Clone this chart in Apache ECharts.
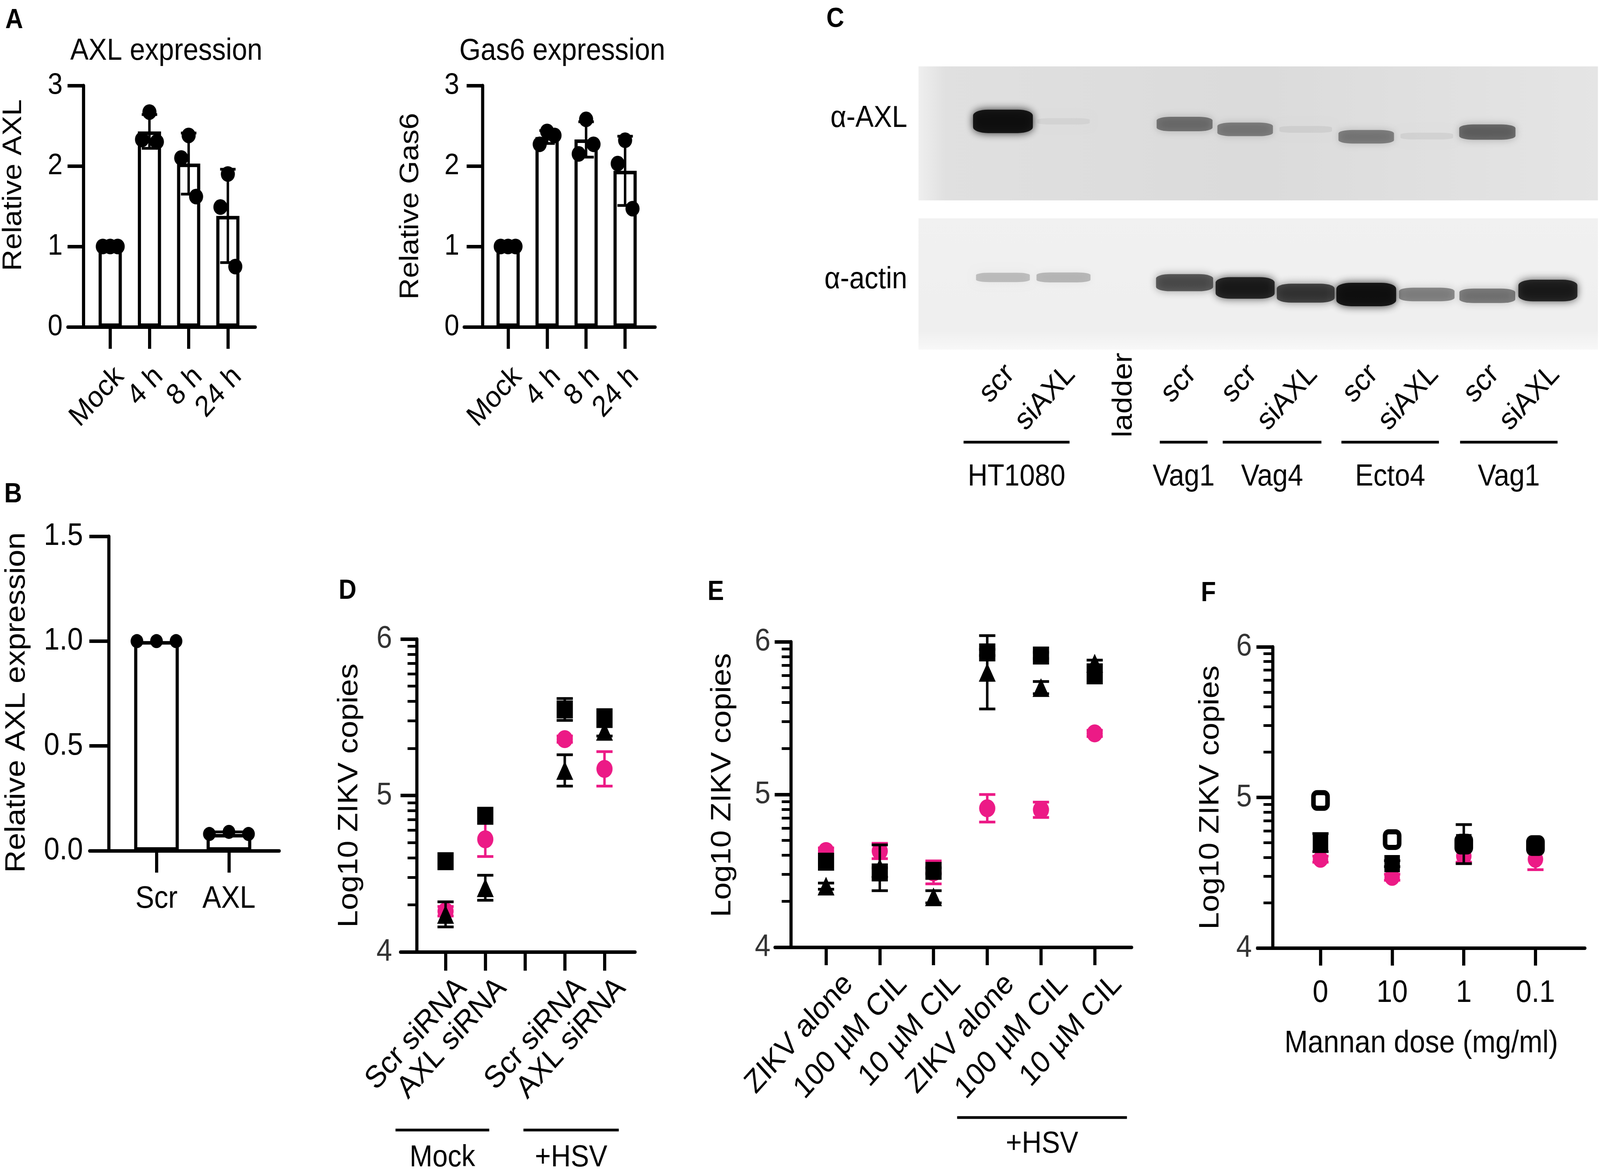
<!DOCTYPE html>
<html>
<head>
<meta charset="utf-8">
<style>
  html, body { margin: 0; background: #fff; overflow: hidden; }
  #chart { width: 4550px; height: 3003px; transform-origin: 0 0; }
</style>
</head>
<body>
<div id="chart"></div>
<script src="https://cdn.jsdelivr.net/npm/echarts@6/dist/echarts.min.js"></script>
<script>
// ---- A: relative expression after HSV exposure ----
const timeCats = ['Mock', '4 h', '8 h', '24 h'];
const axlMean = [1.0, 2.43, 2.03, 1.38];
const axlSd = [0.0, 0.21, 0.38, 0.58];
const axlDots = [[1.0, 1.0, 1.0], [2.33, 2.67, 2.30], [2.10, 2.38, 1.62], [1.49, 1.90, 0.75]];
const gasMean = [1.0, 2.36, 2.33, 1.94];
const gasSd = [0.0, 0.08, 0.22, 0.43];
const gasDots = [[1.0, 1.0, 1.0], [2.27, 2.43, 2.38], [2.15, 2.58, 2.27], [2.03, 2.32, 1.47]];

// ---- B: knockdown ----
const kdCats = ['Scr', 'AXL'];
const kdMean = [1.0, 0.08];
const kdSd = [0.0, 0.01];
const kdDots = [[1.0, 1.0, 1.0], [0.08, 0.09, 0.08]];

// ---- C: western blot (band position = % from top of membrane, intensity 0..1) ----
const laneNames = ['scr', 'siAXL', 'ladder', 'scr', 'scr', 'siAXL', 'scr', 'siAXL', 'scr', 'siAXL'];
const ladderLane = 2;
const axlBandPos = [41, 41, 0, 43, 47, 47, 52.5, 52, 49, 49];
const axlBandInt = [1.0, 0.05, 0, 0.5, 0.45, 0.07, 0.45, 0.07, 0.55, 0];
const actinBandPos = [45, 45, 0, 49, 53, 57, 58, 58, 59, 55];
const actinBandInt = [0.22, 0.25, 0, 0.65, 0.9, 0.75, 1.0, 0.45, 0.5, 0.9];
const blotGroups = ['HT1080', 'Vag1', 'Vag4', 'Ecto4', 'Vag1'];

// ---- D: ZIKV copies after siRNA ----
const dCats = ['Scr siRNA', 'AXL siRNA', '', 'Scr siRNA', 'AXL siRNA'];
const dX = [0, 1, 3, 4];
const dSquare = [4.58, 4.87, 5.55, 5.50];
const dSquareErr = [0.02, 0.02, 0.07, 0.03];
const dCircle = [4.26, 4.72, 5.36, 5.17];
const dCircleErr = [0.03, 0.11, 0.02, 0.11];
const dTriangle = [4.24, 4.41, 5.16, 5.41];
const dTriangleErr = [0.08, 0.08, 0.10, 0.03];

// ---- E: cilengitide ----
const eCats = ['ZIKV alone', '100 µM CIL', '10 µM CIL', 'ZIKV alone', '100 µM CIL', '10 µM CIL'];
const eX = [0, 1, 2, 3, 4, 5];
const eSquare = [4.56, 4.49, 4.50, 5.93, 5.91, 5.79];
const eSquareErr = [0.02, 0.03, 0.02, 0.02, 0.02, 0.06];
const eCircle = [4.63, 4.63, 4.49, 4.91, 4.90, 5.40];
const eCircleErr = [0.02, 0.05, 0.075, 0.09, 0.05, 0.02];
const eTriangle = [4.40, 4.52, 4.33, 5.80, 5.70, 5.86];
const eTriangleErr = [0.02, 0.15, 0.04, 0.24, 0.04, 0.02];

// ---- F: mannan ----
const fCats = ['0', '10', '1', '0.1'];
const fX = [0, 1, 2, 3];
const fOpen = [4.98, 4.72, 4.69, 4.68];
const fOpenErr = [0.01, 0.01, 0.13, 0.02];
const fSquare = [4.70, 4.56, 4.70, 4.68];
const fSquareErr = [0.06, 0.02, 0.03, 0.03];
const fCircle = [4.59, 4.47, 4.61, 4.59];
const fCircleErr = [0.02, 0.02, 0.04, 0.07];

const FONT = 'Liberation Sans';
const PINK = '#ec1a86';
const AXW = 9;

// the window may be narrower than the 4550px figure: squeeze horizontally to fit
const box = document.getElementById('chart');
const sx = Math.min(1, window.innerWidth / 4550);
if (sx < 1) box.style.transform = 'scale(' + sx + ',1)';

const chart = echarts.init(box);

// log-style minor ticks between decades
const minorTicks = [];
[4, 5].forEach(d => { for (let k = 2; k <= 9; k++) minorTicks.push(d + Math.log10(k)); });

function xAxisOf(o) {
  return {
    type: 'value', gridIndex: o.grid, min: o.min, max: o.max, position: 'bottom',
    axisLine: { show: o.line !== false, onZero: false, lineStyle: { color: '#000', width: AXW } },
    axisTick: { show: o.ticks !== undefined, length: o.tickLen, customValues: o.ticks, lineStyle: { color: '#000', width: AXW } },
    axisLabel: {
      show: o.labelValues !== undefined, customValues: o.labelValues, formatter: o.fmt,
      rotate: o.rotate || 0, margin: o.margin, fontFamily: FONT, fontSize: o.fs || 80, color: '#000'
    },
    splitLine: { show: false },
    name: o.name, nameLocation: 'middle', nameGap: o.nameGap,
    nameTextStyle: { fontFamily: FONT, fontSize: o.fs || 80, color: '#000' }
  };
}

function yAxisOf(o) {
  return {
    type: 'value', gridIndex: o.grid, min: o.min, max: o.max, interval: o.interval,
    position: 'left', offset: o.offset || 0, inverse: !!o.inverse,
    axisLine: { show: o.line !== false, onZero: false, lineStyle: { color: '#000', width: AXW } },
    axisTick: { show: o.tickLen > 0, length: o.tickLen, customValues: o.ticks, lineStyle: { color: '#000', width: o.tickW || AXW } },
    axisLabel: {
      show: o.labels !== false, margin: o.margin, formatter: o.fmt, customValues: o.labelValues,
      fontFamily: FONT, fontSize: o.fs || 80, color: o.color || '#000'
    },
    splitLine: { show: false },
    name: o.name, nameLocation: 'middle', nameGap: o.nameGap,
    nameTextStyle: { fontFamily: FONT, fontSize: o.fs || 80, color: '#000', padding: o.namePad || 0 }
  };
}

function dotData(dots, jitter) {
  const out = [];
  dots.forEach((vals, i) => vals.forEach((v, k) => out.push([i + jitter[k], v])));
  return out;
}

function errBars(xi, yi, xs, mean, err, color, cap, z) {
  return {
    type: 'custom', xAxisIndex: xi, yAxisIndex: yi, z: z, silent: true, clip: false,
    encode: { x: 0, y: [1, 2] },
    data: mean.map((m, i) => [xs[i], m - err[i], m + err[i]]).filter(d => d[2] > d[1]),
    renderItem: function (params, api) {
      const lo = api.coord([api.value(0), api.value(1)]);
      const hi = api.coord([api.value(0), api.value(2)]);
      const st = { stroke: color, lineWidth: 7, fill: null };
      return {
        type: 'group', children: [
          { type: 'line', shape: { x1: lo[0], y1: lo[1], x2: hi[0], y2: hi[1] }, style: st },
          { type: 'line', shape: { x1: hi[0] - cap, y1: hi[1], x2: hi[0] + cap, y2: hi[1] }, style: st },
          { type: 'line', shape: { x1: lo[0] - cap, y1: lo[1], x2: lo[0] + cap, y2: lo[1] }, style: st }
        ]
      };
    }
  };
}

function markers(xi, yi, xs, vals, symbol, size, itemStyle, z) {
  return {
    type: 'scatter', xAxisIndex: xi, yAxisIndex: yi, z: z, symbol: symbol, symbolSize: size,
    itemStyle: Object.assign({ opacity: 1 }, itemStyle), data: vals.map((v, i) => [xs[i], v])
  };
}

function bands(xi, yi, pos, inten) {
  const data = [];
  pos.forEach((p, i) => {
    const a = inten[i];
    if (a <= 0) return;
    const c = 'rgba(12,12,12,' + (0.92 * a).toFixed(3) + ')';
    data.push({ value: [i, p, a], itemStyle: { color: c, shadowColor: c, shadowBlur: 22, opacity: 1 } });
  });
  return {
    type: 'scatter', xAxisIndex: xi, yAxisIndex: yi, symbol: 'roundRect', z: 3, silent: true,
    symbolSize: v => [148 + 22 * v[2], 14 + 46 * v[2]], data: data
  };
}

const idx = n => Array.from({ length: n }, (_, i) => i);
const catFmt = (cats, shift) => v => cats[Math.round(v - (shift || 0))];

const grids = [
  { left: 191, top: 219, width: 535, height: 618 },   // 0 A AXL
  { left: 1320, top: 219, width: 543, height: 618 },  // 1 A Gas6
  { left: 255, top: 1373, width: 539, height: 805 },  // 2 B
  { left: 1139, top: 1636, width: 667, height: 801 }, // 3 D
  { left: 2204, top: 1643, width: 1014, height: 782 },// 4 E
  { left: 3576, top: 1656, width: 931, height: 771 }, // 5 F
  { left: 2612, top: 170, width: 1932, height: 343, show: true, borderWidth: 0,
    backgroundColor: { type: 'linear', x: 0, y: 0, x2: 1, y2: 0, colorStops: [
      { offset: 0, color: '#efefef' }, { offset: 0.04, color: '#e0e0e0' },
      { offset: 0.5, color: '#dbdbdb' }, { offset: 1, color: '#e5e5e5' }] } },
  { left: 2612, top: 559, width: 1932, height: 336, show: true, borderWidth: 0,
    backgroundColor: { type: 'linear', x: 0, y: 0, x2: 0, y2: 1, colorStops: [
      { offset: 0, color: '#f1f1f1' }, { offset: 0.85, color: '#efefef' }, { offset: 1, color: '#f8f8f8' }] } }
];

// rotated labels sit a little to the right of their tick in the original
const aShift = 0.24, dShift = 0.42, eShift = 0.42, laneShift = 0.12;

const xAxes = [
  xAxisOf({ grid: 0, min: -1.08, max: 3.70, ticks: idx(4), tickLen: 56, labelValues: idx(4).map(v => v + aShift), fmt: catFmt(timeCats, aShift), rotate: 45, margin: 115, fs: 76 }),
  xAxisOf({ grid: 1, min: -1.126, max: 3.77, ticks: idx(4), tickLen: 56, labelValues: idx(4).map(v => v + aShift), fmt: catFmt(timeCats, aShift), rotate: 45, margin: 115, fs: 76 }),
  xAxisOf({ grid: 2, min: -0.922, max: 1.694, ticks: idx(2), tickLen: 56, labelValues: idx(2), fmt: catFmt(kdCats), margin: 84 }),
  xAxisOf({ grid: 3, min: -1.133, max: 4.77, ticks: idx(5), tickLen: 48, labelValues: dX.map(v => v + dShift), fmt: catFmt(dCats, dShift), rotate: 45, margin: 80 }),
  xAxisOf({ grid: 4, min: -0.949, max: 5.687, ticks: idx(6), tickLen: 46, labelValues: eX.map(v => v + eShift), fmt: catFmt(eCats, eShift), rotate: 45, margin: 82 }),
  xAxisOf({ grid: 5, min: -0.879, max: 3.69, ticks: idx(4), tickLen: 45, labelValues: fX, fmt: catFmt(fCats), margin: 76,
    name: 'Mannan dose (mg/ml)', nameGap: 205 }),
  // blot axes: ladder label hangs off the upper membrane, lane labels off the lower one
  xAxisOf({ grid: 6, min: -1.394, max: 9.826, line: false, labelValues: [ladderLane], fmt: catFmt(laneNames), rotate: 90, margin: 390, fs: 78 }),
  xAxisOf({ grid: 7, min: -1.394, max: 9.826, line: false,
    labelValues: idx(10).filter(i => i !== ladderLane).map(v => v + laneShift), fmt: catFmt(laneNames, laneShift), rotate: 45, margin: 51, fs: 78 })
];

const yAxes = [
  yAxisOf({ grid: 0, min: 0, max: 3, interval: 1, offset: -44, tickLen: 45, margin: 59, fs: 76,
    name: 'Relative AXL', nameGap: 160, namePad: [0, 0, 0, 108] }),
  yAxisOf({ grid: 1, min: 0, max: 3, interval: 1, offset: -52, tickLen: 45, margin: 66, fs: 76,
    name: 'Relative Gas6', nameGap: 166 }),
  yAxisOf({ grid: 2, min: 0, max: 1.5, interval: 0.5, offset: -54, tickLen: 55, margin: 73, fmt: v => v.toFixed(1),
    name: 'Relative AXL expression', nameGap: 221, namePad: [0, 46, 0, 0] }),
  yAxisOf({ grid: 3, min: 4, max: 6, interval: 1, offset: -46, tickLen: 46, margin: 70, color: '#333',
    name: 'Log10 ZIKV copies', nameGap: 151 }),
  yAxisOf({ grid: 3, min: 4, max: 6, offset: -46, line: false, labels: false, tickLen: 26, tickW: 7, ticks: minorTicks }),
  yAxisOf({ grid: 4, min: 4, max: 6, interval: 1, offset: -45, tickLen: 46, margin: 58, color: '#333',
    name: 'Log10 ZIKV copies', nameGap: 154, namePad: [0, 0, 0, 48] }),
  yAxisOf({ grid: 4, min: 4, max: 6, offset: -45, line: false, labels: false, tickLen: 26, tickW: 7, ticks: minorTicks }),
  yAxisOf({ grid: 5, min: 4, max: 6, interval: 1, offset: -43, tickLen: 46, margin: 59, color: '#333',
    name: 'Log10 ZIKV copies', nameGap: 136 }),
  yAxisOf({ grid: 5, min: 4, max: 6, offset: -43, line: false, labels: false, tickLen: 26, tickW: 7, ticks: minorTicks }),
  yAxisOf({ grid: 6, min: 0, max: 100, inverse: true, line: false, tickLen: 0, labelValues: [39], fmt: () => 'α-AXL', margin: 32, fs: 78 }),
  yAxisOf({ grid: 7, min: 0, max: 100, inverse: true, line: false, tickLen: 0, labelValues: [47], fmt: () => 'α-actin', margin: 32, fs: 78 })
];

const barStyle = { color: '#fff', borderColor: '#000', borderWidth: 9 };
const jitterA = [-0.19, 0, 0.19];
const jitterB = [-0.27, 0, 0.27];
const blk = { color: '#000', opacity: 1 };
const pnk = { color: PINK, opacity: 1 };
const open = { color: '#fff', borderColor: '#000', borderWidth: 13, opacity: 1 };

const series = [
  // A
  { type: 'bar', xAxisIndex: 0, yAxisIndex: 0, barWidth: 66, itemStyle: barStyle, z: 2, data: axlMean.map((m, i) => [i, m]) },
  errBars(0, 0, idx(4), axlMean, axlSd, '#000', 22, 3),
  { type: 'scatter', xAxisIndex: 0, yAxisIndex: 0, symbolSize: 40, itemStyle: blk, z: 4, data: dotData(axlDots, jitterA) },
  { type: 'bar', xAxisIndex: 1, yAxisIndex: 1, barWidth: 66, itemStyle: barStyle, z: 2, data: gasMean.map((m, i) => [i, m]) },
  errBars(1, 1, idx(4), gasMean, gasSd, '#000', 22, 3),
  { type: 'scatter', xAxisIndex: 1, yAxisIndex: 1, symbolSize: 40, itemStyle: blk, z: 4, data: dotData(gasDots, jitterA) },
  // B
  { type: 'bar', xAxisIndex: 2, yAxisIndex: 2, barWidth: 127, itemStyle: barStyle, z: 2, data: kdMean.map((m, i) => [i, m]) },
  errBars(2, 2, idx(2), kdMean, kdSd, '#000', 40, 3),
  { type: 'scatter', xAxisIndex: 2, yAxisIndex: 2, symbolSize: 36, itemStyle: blk, z: 4, data: dotData(kdDots, jitterB) },
  // D
  errBars(3, 3, dX, dCircle, dCircleErr, PINK, 23, 10),
  markers(3, 3, dX, dCircle, 'circle', 46, pnk, 11),
  errBars(3, 3, dX, dTriangle, dTriangleErr, '#000', 23, 12),
  markers(3, 3, dX, dTriangle, 'triangle', 48, blk, 13),
  errBars(3, 3, dX, dSquare, dSquareErr, '#000', 23, 14),
  markers(3, 3, dX, dSquare, 'rect', 46, blk, 15),
  // E
  errBars(4, 5, eX, eCircle, eCircleErr, PINK, 23, 10),
  markers(4, 5, eX, eCircle, 'circle', 46, pnk, 11),
  errBars(4, 5, eX, eTriangle, eTriangleErr, '#000', 23, 12),
  markers(4, 5, eX, eTriangle, 'triangle', 48, blk, 13),
  errBars(4, 5, eX, eSquare, eSquareErr, '#000', 23, 14),
  markers(4, 5, eX, eSquare, 'rect', 46, blk, 15),
  // F
  errBars(5, 7, fX, fCircle, fCircleErr, PINK, 23, 10),
  markers(5, 7, fX, fCircle, 'circle', 44, pnk, 11),
  errBars(5, 7, fX, fOpen, fOpenErr, '#000', 23, 12),
  markers(5, 7, fX, fOpen, 'roundRect', 40, open, 13),
  errBars(5, 7, fX, fSquare, fSquareErr, '#000', 23, 14),
  markers(5, 7, fX, fSquare, 'rect', 44, blk, 15),
  // C
  bands(6, 9, axlBandPos, axlBandInt),
  bands(7, 10, actinBandPos, actinBandInt)
];

chart.setOption({
  animation: false,
  backgroundColor: '#fff',
  textStyle: { fontFamily: FONT },
  grid: grids,
  xAxis: xAxes,
  yAxis: yAxes,
  series: series
});

// panel letters, titles and group brackets
const txt = (x, y, s, size, weight, align) => ({
  type: 'text', x: x, y: y, silent: true,
  style: { text: s, fontFamily: FONT, fontSize: size, fontWeight: weight || 'normal', fill: '#000',
    align: align || 'left', verticalAlign: 'top', textAlign: align || 'left', textVerticalAlign: 'top' }
});
const gfx = [
  txt(15, 18, 'A', 70, 'bold'), txt(12, 1232, 'B', 70, 'bold'), txt(2350, 15, 'C', 70, 'bold'),
  txt(963, 1479, 'D', 70, 'bold'), txt(2012, 1482, 'E', 70, 'bold'), txt(3415, 1485, 'F', 70, 'bold'),
  txt(473, 92, 'AXL expression', 78, 'normal', 'center'),
  txt(1599, 92, 'Gas6 expression', 78, 'normal', 'center')
];

// brackets: span in axis units, line y and label y in px
const brackets = [
  { axis: 3, from: -1.26, to: 1.10, name: 'Mock', y: 2893, ty: 2925 },
  { axis: 3, from: 1.96, to: 4.36, name: '+HSV', y: 2893, ty: 2925 },
  { axis: 4, from: 2.44, to: 5.60, name: '+HSV', y: 2861, ty: 2890 }
];
const groupSpan = [[-0.65, 1.1], [2.59, 3.38], [3.63, 5.26], [5.59, 7.2], [7.55, 9.16]];
blotGroups.forEach((g, i) => brackets.push({ axis: 7, from: groupSpan[i][0], to: groupSpan[i][1], name: g, y: 1132, ty: 1182 }));

brackets.forEach(b => {
  const x1 = chart.convertToPixel({ xAxisIndex: b.axis }, b.from);
  const x2 = chart.convertToPixel({ xAxisIndex: b.axis }, b.to);
  gfx.push({ type: 'line', silent: true, shape: { x1: x1, y1: b.y, x2: x2, y2: b.y }, style: { stroke: '#000', lineWidth: 7 } });
  gfx.push(txt((x1 + x2) / 2, b.ty, b.name, 78, 'normal', 'center'));
});

chart.setOption({ graphic: gfx });
</script>
</body>
</html>
